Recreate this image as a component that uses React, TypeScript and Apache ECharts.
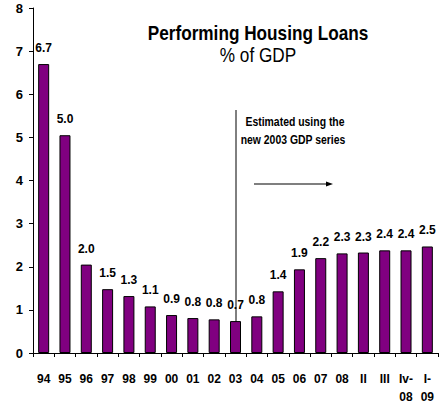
import React, { useEffect, useRef } from "react";
import * as echarts from "echarts";

const categories = ["94", "95", "96", "97", "98", "99", "00", "01", "02", "03", "04", "05", "06", "07", "08", "II", "III", "Iv-\n08", "I-\n09"];
const values = [6.7, 5.05, 2.05, 1.48, 1.32, 1.08, 0.88, 0.81, 0.78, 0.74, 0.85, 1.43, 1.94, 2.2, 2.31, 2.33, 2.38, 2.38, 2.47];
const valueLabels = ["6.7", "5.0", "2.0", "1.5", "1.3", "1.1", "0.9", "0.8", "0.8", "0.7", "0.8", "1.4", "1.9", "2.2", "2.3", "2.3", "2.4", "2.4", "2.5"];
const yTicks = [0, 1, 2, 3, 4, 5, 6, 7, 8];

const FONT = "'Liberation Sans', Arial, sans-serif";

export default function App() {
  const ref = useRef<HTMLDivElement>(null);
  useEffect(() => {
    if (!ref.current) return;
    const chart = echarts.init(ref.current, null, { renderer: "svg" });
    chart.setOption({
      animation: false,
      backgroundColor: "#ffffff",
      grid: { left: 33, right: 6, top: 8, bottom: 56, containLabel: false },
      xAxis: {
        type: "category",
        data: categories,
        axisLine: { lineStyle: { color: "#000", width: 1 } },
        axisTick: { show: true, alignWithLabel: false, length: 4, lineStyle: { color: "#000" } },
        axisLabel: {
          interval: 0,
          color: "#000",
          fontFamily: FONT,
          fontWeight: "bold",
          fontSize: 12,
          margin: 17,
          lineHeight: 18,
          verticalAlign: "top",
        },
      },
      yAxis: {
        type: "value",
        min: yTicks[0],
        max: yTicks[yTicks.length - 1],
        interval: 1,
        splitLine: { show: false },
        axisLine: { show: true, lineStyle: { color: "#000", width: 1 } },
        axisTick: { show: true, length: 4, lineStyle: { color: "#000" } },
        axisLabel: {
          color: "#000",
          fontFamily: FONT,
          fontWeight: "bold",
          fontSize: 13,
          margin: 10,
        },
      },
      series: [
        {
          type: "bar",
          data: values,
          barWidth: 11,
          itemStyle: { color: "#800080", borderColor: "#000", borderWidth: 1 },
          label: {
            show: true,
            position: "top",
            distance: 10,
            color: "#000",
            fontFamily: FONT,
            fontWeight: "bold",
            fontSize: 12,
            formatter: (p: any) => valueLabels[p.dataIndex],
          },
        },
      ],
      graphic: [
        {
          type: "text",
          x: 258,
          y: 33,
          scaleX: 0.86,
          style: {
            text: "Performing Housing Loans",
            fontFamily: FONT,
            fontWeight: "bold",
            fontSize: 20,
            fill: "#000",
            align: "center",
            verticalAlign: "middle",
          },
        },
        {
          type: "text",
          x: 258,
          y: 55,
          scaleX: 0.86,
          style: {
            text: "% of GDP",
            fontFamily: FONT,
            fontSize: 20,
            fill: "#000",
            align: "center",
            verticalAlign: "middle",
          },
        },
        {
          type: "text",
          x: 295,
          y: 122,
          scaleX: 0.87,
          style: {
            text: "Estimated using the",
            fontFamily: FONT,
            fontWeight: "bold",
            fontSize: 12,
            fill: "#000",
            align: "center",
            verticalAlign: "middle",
          },
        },
        {
          type: "text",
          x: 293,
          y: 140,
          scaleX: 0.87,
          style: {
            text: "new 2003 GDP series",
            fontFamily: FONT,
            fontWeight: "bold",
            fontSize: 12,
            fill: "#000",
            align: "center",
            verticalAlign: "middle",
          },
        },
        {
          type: "line",
          shape: { x1: 236, y1: 110, x2: 236, y2: 330 },
          style: { stroke: "#000", lineWidth: 1 },
        },
        {
          type: "line",
          shape: { x1: 254, y1: 184, x2: 327, y2: 184 },
          style: { stroke: "#000", lineWidth: 1.2 },
        },
        {
          type: "polygon",
          shape: { points: [[333, 184], [326, 181.5], [326, 186.5]] },
          style: { fill: "#000" },
        },
      ],
    });
    return () => chart.dispose();
  }, []);
  return (
    <div
      ref={ref}
      style={{ position: "absolute", left: 0, top: 0, width: 444, height: 409 }}
    />
  );
}
